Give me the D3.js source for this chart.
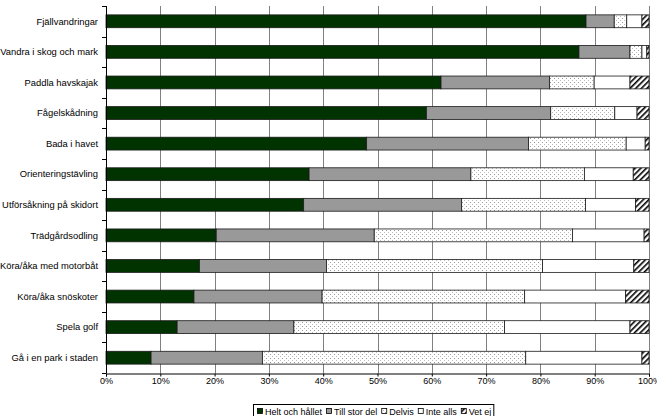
<!DOCTYPE html>
<html>
<head>
<meta charset="utf-8">
<script src="https://cdn.jsdelivr.net/npm/d3@7"></script>
<style>
  body { margin: 0; background: #fff; }
  text { font-family: Arial, "Liberation Sans", sans-serif; fill: #000; }
</style>
</head>
<body>
<svg id="chart" width="657" height="416"></svg>
<script>
const categories = [
  "Fjällvandringar", "Vandra i skog och mark", "Paddla havskajak", "Fågelskådning",
  "Bada i havet", "Orienteringstävling", "Utförsåkning på skidort", "Trädgårdsodling",
  "Köra/åka med motorbåt", "Köra/åka snöskoter", "Spela golf", "Gå i en park i staden"
];
const seriesNames = ["Helt och hållet", "Till stor del", "Delvis", "Inte alls", "Vet ej"];
const heltOchHallet = [88.4, 87.1, 61.7, 59.0, 48.0, 37.4, 36.4, 20.3, 17.2, 16.2, 13.1, 8.3];
const tillStorDel   = [5.2, 9.4, 20.0, 22.9, 29.8, 29.8, 29.1, 29.1, 23.4, 23.6, 21.5, 20.5];
const delvis        = [2.3, 2.2, 8.2, 11.8, 18.0, 20.9, 22.8, 36.5, 39.8, 37.3, 38.8, 48.5];
const inteAlls      = [2.8, 0.9, 6.6, 4.1, 3.5, 9.0, 9.2, 13.2, 16.8, 18.6, 23.1, 21.4];
const vetEj         = [1.3, 0.4, 3.5, 2.2, 0.7, 2.9, 2.5, 0.9, 2.8, 4.3, 3.5, 1.3];
const tickValues = [0, 0.1, 0.2, 0.3, 0.4, 0.5, 0.6, 0.7, 0.8, 0.9, 1];

const svg = d3.select("#chart");
const margin = { top: 6, right: 8, bottom: 43, left: 106 };
const width = 657 - margin.left - margin.right;
const height = 416 - margin.top - margin.bottom;

// patterns for Delvis (dots) and Vet ej (hatch)
const defs = svg.append("defs");
const dots = defs.append("pattern")
  .attr("id", "dots").attr("patternUnits", "userSpaceOnUse")
  .attr("width", 4).attr("height", 4);
dots.append("rect").attr("width", 4).attr("height", 4).attr("fill", "#fff");
dots.append("rect").attr("x", 0).attr("y", 0).attr("width", 1).attr("height", 1).attr("fill", "#999");
dots.append("rect").attr("x", 2).attr("y", 2).attr("width", 1).attr("height", 1).attr("fill", "#bbb");

const hatch = defs.append("pattern")
  .attr("id", "hatch").attr("patternUnits", "userSpaceOnUse")
  .attr("width", 4).attr("height", 4)
  .attr("patternTransform", "rotate(45)");
hatch.append("rect").attr("width", 4).attr("height", 4).attr("fill", "#fff");
hatch.append("rect").attr("x", 0).attr("y", 0).attr("width", 1.6).attr("height", 4).attr("fill", "#000");

const fills = ["#003300", "#999999", "url(#dots)", "#ffffff", "url(#hatch)"];

const rows = categories.map((c, i) => {
  const vals = [heltOchHallet[i], tillStorDel[i], delvis[i], inteAlls[i], vetEj[i]];
  const total = d3.sum(vals);
  const r = { cat: c };
  seriesNames.forEach((s, k) => r[s] = vals[k] / total);
  return r;
});
const stacked = d3.stack().keys(seriesNames)(rows);

const x = d3.scaleLinear().domain([0, 1]).range([0, width]);
const y = d3.scaleBand().domain(categories).range([0, height]).paddingInner(0.58).paddingOuter(0.29);

const g = svg.append("g").attr("transform", `translate(${margin.left},${margin.top})`);

// gridlines
g.append("g").selectAll("line").data(tickValues.slice(1)).enter().append("line")
  .attr("x1", d => Math.round(x(d)) + 0.5).attr("x2", d => Math.round(x(d)) + 0.5)
  .attr("y1", 0).attr("y2", height)
  .attr("stroke", "#808080").attr("stroke-width", 1);

// bars
g.append("g").selectAll("g").data(stacked).enter().append("g")
  .attr("fill", (d, i) => fills[i])
  .selectAll("rect").data(d => d).enter().append("rect")
  .attr("x", d => x(d[0]))
  .attr("y", d => y(d.data.cat))
  .attr("width", d => x(d[1]) - x(d[0]))
  .attr("height", y.bandwidth())
  .attr("stroke", "#1a1a1a").attr("stroke-width", 0.8);

// left axis with ticks at band boundaries
g.append("line").attr("x1", 0.5).attr("x2", 0.5).attr("y1", 0).attr("y2", height)
  .attr("stroke", "#000");
const step = y.step();
g.append("g").selectAll("line").data(d3.range(categories.length + 1)).enter().append("line")
  .attr("x1", -4).attr("x2", 0.5)
  .attr("y1", d => Math.round(d * step) + 0.5).attr("y2", d => Math.round(d * step) + 0.5)
  .attr("stroke", "#000");
g.append("g").selectAll("text").data(categories).enter().append("text")
  .attr("x", -8).attr("y", d => y(d) + y.bandwidth() / 2)
  .attr("dy", "0.35em").attr("text-anchor", "end")
  .style("font-size", "9.4px").text(d => d);

// bottom axis
const xAxis = d3.axisBottom(x).tickValues(tickValues).tickFormat(d3.format(".0%"))
  .tickSize(3).tickPadding(1);
const ax = g.append("g").attr("transform", `translate(0,${height + 0.5})`).call(xAxis);
ax.select(".domain").attr("stroke", "#000");
ax.selectAll(".tick line").attr("stroke", "#000");
ax.selectAll(".tick text").style("font-size", "9px").attr("fill", "#000")
  .style("font-family", "Arial, 'Liberation Sans', sans-serif");

// legend
const legend = svg.append("g").attr("transform", "translate(253,404)");
const legendBox = legend.append("rect").attr("x", 0.5).attr("y", 0.5).attr("height", 13)
  .attr("fill", "#fff").attr("stroke", "#000").attr("stroke-width", 1);
let lx = 4;
seriesNames.forEach((s, i) => {
  legend.append("rect").attr("x", lx + 0.5).attr("y", 4.5).attr("width", 5).attr("height", 5)
    .attr("fill", fills[i]).attr("stroke", "#000").attr("stroke-width", 0.8);
  const t = legend.append("text").attr("x", lx + 8).attr("y", 10.5)
    .style("font-size", "9px").text(s);
  lx += 8 + t.node().getComputedTextLength() + 4;
});
legendBox.attr("width", lx - 2);
</script>
</body>
</html>
